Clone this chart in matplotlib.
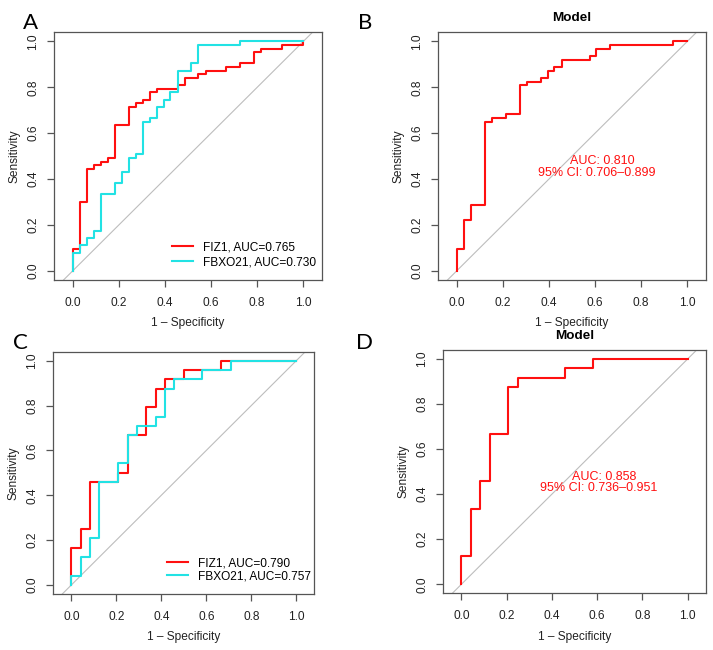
import matplotlib
matplotlib.use("Agg")
import matplotlib.pyplot as plt

plt.rcParams['font.family'] = ['Liberation Sans', 'DejaVu Sans']

# ROC corner points (1 - specificity, sensitivity)
# panel A, training set
a_fiz1_fpr = [0, 0, 0.030, 0.061, 0.091, 0.121, 0.152, 0.182, 0.242, 0.273, 0.303, 0.333,
              0.364, 0.455, 0.485, 0.545, 0.576, 0.667, 0.727, 0.788, 0.818, 0.909, 1.0]
a_fiz1_tpr = [0, 0.095, 0.302, 0.444, 0.460, 0.476, 0.492, 0.635, 0.714, 0.730, 0.746, 0.778,
              0.794, 0.810, 0.841, 0.857, 0.873, 0.889, 0.905, 0.952, 0.968, 0.984, 1.0]
a_fbxo_fpr = [0, 0, 0.030, 0.061, 0.091, 0.121, 0.182, 0.212, 0.242, 0.273, 0.303, 0.333,
              0.364, 0.394, 0.424, 0.455, 0.515, 0.545, 0.727, 1.0]
a_fbxo_tpr = [0, 0.079, 0.111, 0.143, 0.175, 0.333, 0.381, 0.429, 0.492, 0.508, 0.651, 0.667,
              0.714, 0.746, 0.778, 0.873, 0.905, 0.984, 1.0, 1.0]

# panel B, model on training set
b_fpr = [0, 0, 0.030, 0.061, 0.121, 0.152, 0.212, 0.273, 0.303, 0.364, 0.394, 0.424,
         0.455, 0.576, 0.606, 0.667, 0.939, 1.0]
b_tpr = [0, 0.095, 0.222, 0.286, 0.651, 0.667, 0.683, 0.810, 0.825, 0.841, 0.873, 0.889,
         0.921, 0.937, 0.968, 0.984, 1.0, 1.0]

# panel C, validation set
c_fiz1_fpr = [0, 0, 0.042, 0.083, 0.208, 0.250, 0.333, 0.375, 0.417, 0.500, 0.667, 1.0]
c_fiz1_tpr = [0, 0.167, 0.250, 0.458, 0.500, 0.667, 0.792, 0.875, 0.917, 0.958, 1.0, 1.0]
c_fbxo_fpr = [0, 0, 0.042, 0.083, 0.125, 0.208, 0.250, 0.292, 0.375, 0.417, 0.458, 0.583, 0.708, 1.0]
c_fbxo_tpr = [0, 0.042, 0.125, 0.208, 0.458, 0.542, 0.667, 0.708, 0.750, 0.875, 0.917, 0.958, 1.0, 1.0]

# panel D, model on validation set
d_fpr = [0, 0, 0.042, 0.083, 0.125, 0.208, 0.250, 0.458, 0.583, 1.0]
d_tpr = [0, 0.125, 0.333, 0.458, 0.667, 0.875, 0.917, 0.958, 1.0, 1.0]

a_labels = ['FIZ1, AUC=0.765', 'FBXO21, AUC=0.730']
c_labels = ['FIZ1, AUC=0.790', 'FBXO21, AUC=0.757']
b_auc, b_ci = 'AUC: 0.810', '95% CI: 0.706\u20130.899'
d_auc, d_ci = 'AUC: 0.858', '95% CI: 0.736\u20130.951'
ticks = [0.0, 0.2, 0.4, 0.6, 0.8, 1.0]

RED = '#FF1010'
CYAN = '#22E2E4'
AXC = '#555555'
FS = 8.6

W, H = 713, 650
fig = plt.figure(figsize=(W / 100, H / 100), dpi=100)


def make_ax(l, t, r, b):
    # pixel box -> figure fraction
    ax = fig.add_axes([l / W, 1 - b / H, (r - l) / W, (b - t) / H])
    ax.set_xlim(-0.08, 1.08)
    ax.set_ylim(-0.04, 1.04)
    ax.plot([-0.2, 1.2], [-0.2, 1.2], color='#BDBDBD', lw=0.8)
    ax.set_xticks(ticks)
    ax.set_yticks(ticks)
    ax.set_xticklabels(['%.1f' % v for v in ticks])
    ax.set_yticklabels(['%.1f' % v for v in ticks], rotation=90, va='center')
    ax.tick_params(length=4.8, width=0.9, color=AXC, labelsize=FS, labelcolor='#222222')
    ax.tick_params(axis='x', pad=7.5)
    ax.tick_params(axis='y', pad=6)
    for s in ax.spines.values():
        s.set_color(AXC)
        s.set_linewidth(0.9)
    ax.set_xlabel('1 \u2013 Specificity', fontsize=FS, labelpad=6, color='#222222')
    ax.set_ylabel('Sensitivity', fontsize=FS, labelpad=5, color='#222222')
    return ax


axA = make_ax(54.3, 32.3, 321.7, 280)
axB = make_ax(438.3, 32.3, 705.7, 280)
axC = make_ax(53.3, 351.7, 314.3, 594)
axD = make_ax(443.3, 350, 705.7, 593.3)

axA.plot(a_fiz1_fpr, a_fiz1_tpr, drawstyle='steps-post', color=RED, lw=1.5, label=a_labels[0])
axA.plot(a_fbxo_fpr, a_fbxo_tpr, drawstyle='steps-post', color=CYAN, lw=1.5, label=a_labels[1])
axC.plot(c_fiz1_fpr, c_fiz1_tpr, drawstyle='steps-post', color=RED, lw=1.5, label=c_labels[0])
axC.plot(c_fbxo_fpr, c_fbxo_tpr, drawstyle='steps-post', color=CYAN, lw=1.5, label=c_labels[1])
axB.plot(b_fpr, b_tpr, drawstyle='steps-post', color=RED, lw=1.5)
axD.plot(d_fpr, d_tpr, drawstyle='steps-post', color=RED, lw=1.5)

for ax, x0, y0, sp in [(axA, 0.439, 0.101, 0.25), (axC, 0.4345, 0.100, 0.12)]:
    ax.legend(loc='center left', bbox_to_anchor=(x0, y0), frameon=False, fontsize=FS,
              handlelength=1.81, handletextpad=0.84, borderpad=0, borderaxespad=0,
              labelspacing=sp)

for ax, auc, ci in [(axB, b_auc, b_ci), (axD, d_auc, d_ci)]:
    ax.text(0.633, 0.478, auc, color=RED, fontsize=9, ha='center', va='center')
    ax.text(0.609, 0.428, ci, color=RED, fontsize=9, ha='center', va='center')
    ax.set_title('Model', fontsize=9.7, fontweight='bold', pad=8)

for lab, x, y in [('A', 30.8, 22.8), ('B', 364.7, 23.3), ('C', 20.5, 343.3), ('D', 364.7, 343.3)]:
    fig.text(x / W, 1 - y / H, lab, fontsize=16, family=['Lato', 'DejaVu Sans'],
             ha='center', va='center')

fig.savefig('out.png', dpi=100)
